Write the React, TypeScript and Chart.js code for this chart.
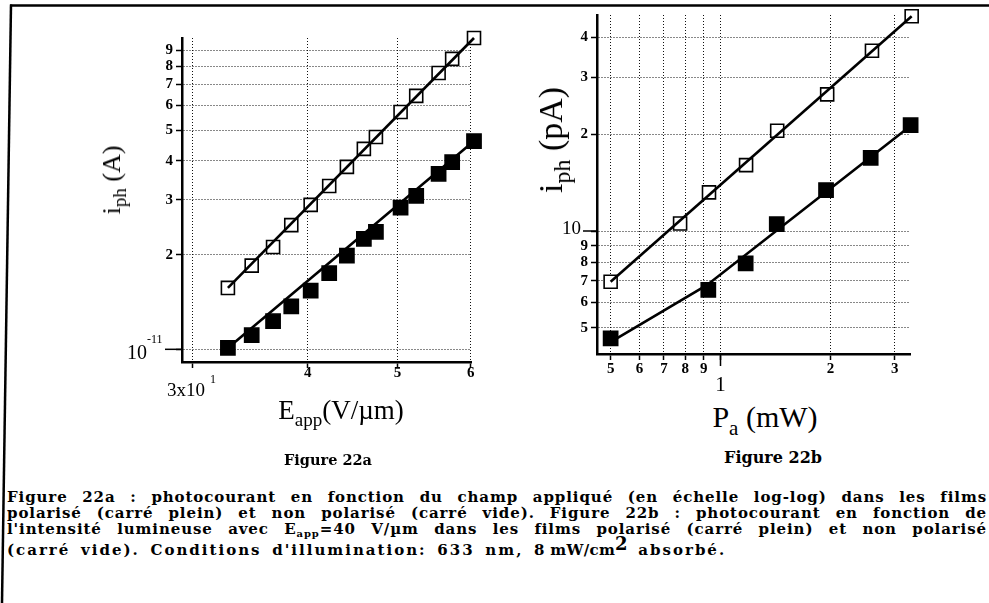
import React, { useEffect, useRef } from "react";
import { Chart, registerables } from "chart.js";

Chart.register(...registerables);

// ---------------- Figure 22a : i_ph vs E_app (log-log) ----------------
const fieldValues = [32.8, 34.8, 36.7, 38.4, 40.3, 42.2, 44.1, 46.0, 47.4, 50.4, 52.4, 55.4, 57.3, 60.5]; // V/µm
const currentNonPolarized = [1.57e-11, 1.85e-11, 2.12e-11, 2.49e-11, 2.89e-11, 3.32e-11, 3.82e-11, 4.36e-11, 4.76e-11, 5.72e-11, 6.44e-11, 7.62e-11, 8.45e-11, 9.85e-11]; // A (carré vide)
const currentPolarized = [1.01e-11, 1.11e-11, 1.23e-11, 1.37e-11, 1.54e-11, 1.75e-11, 1.99e-11, 2.25e-11, 2.37e-11, 2.83e-11, 3.09e-11, 3.63e-11, 3.96e-11, 4.62e-11]; // A (carré plein)
const fitFieldValues = [32.8, 60.5];
const fitCurrentNonPolarized = [1.57e-11, 9.85e-11];
const fitCurrentPolarized = [1.01e-11, 4.62e-11];
const fieldTicks = [30, 40, 50, 60];
const currentTicks = [1e-11, 2e-11, 3e-11, 4e-11, 5e-11, 6e-11, 7e-11, 8e-11, 9e-11];
const fieldRange = [29.26, 60.05];
const currentRange = [0.911e-11, 9.85e-11];

// ---------------- Figure 22b : i_ph vs P_a (log-log) ----------------
const powerNonPolarized = [0.5, 0.775, 0.93, 1.175, 1.43, 1.96, 2.6, 3.34]; // mW
const photoNonPolarized = [6.96, 10.56, 13.19, 16.03, 20.49, 26.58, 36.31, 46.5]; // pA
const powerPolarized = [0.5, 0.926, 1.172, 1.426, 1.946, 2.579, 3.318]; // mW
const photoPolarized = [4.64, 6.56, 7.94, 10.51, 13.41, 16.89, 21.34]; // pA
const fitPowerNonPolarized = [0.5, 3.34];
const fitPhotoNonPolarized = [6.96, 46.5];
const fitPowerPolarized = [0.493, 0.917, 3.34];
const fitPhotoPolarized = [4.48, 6.79, 21.34];
const powerTicks = [0.5, 0.6, 0.7, 0.8, 0.9, 1, 2, 3];
const photoTicks = [5, 6, 7, 8, 9, 10, 20, 30, 40];
const powerRange = [0.4588, 3.305];
const photoRange = [4.15, 46.9];

const SERIF = '"Liberation Serif", "Times New Roman", serif';
const WIDE = '"DejaVu Serif", serif';

const pts = (xs: number[], ys: number[]) => xs.map((x, i) => ({ x, y: ys[i] }));

function fitDataset(xs: number[], ys: number[]) {
  return {
    data: pts(xs, ys),
    showLine: true,
    borderColor: "#000",
    borderWidth: 2.6,
    pointRadius: 0,
    pointHoverRadius: 0,
    clip: false as const,
  };
}

function markerDataset(xs: number[], ys: number[], filled: boolean) {
  return {
    data: pts(xs, ys),
    showLine: false,
    pointStyle: "rect",
    pointRadius: filled ? 10 : 9.2,
    pointBorderWidth: 1.6,
    pointBackgroundColor: filled ? "#000" : "#fff",
    pointBorderColor: "#000",
    clip: false as const,
  };
}

interface AxisSpec {
  range: number[];
  ticks: number[];
  label: (v: number) => string;
  size: number;
  pad: number;
}

function logAxis(spec: AxisSpec, horizontal: boolean) {
  return {
    type: "logarithmic" as const,
    min: spec.range[0],
    max: spec.range[1],
    afterBuildTicks: (s: any) => {
      s.ticks = spec.ticks.map((v) => ({ value: v }));
    },
    afterFit: (s: any) => {
      if (horizontal) s.height = spec.size;
      else s.width = spec.size;
    },
    ticks: {
      autoSkip: false,
      maxRotation: 0,
      color: "#000",
      padding: spec.pad,
      font: { family: SERIF, size: 15, weight: "bold" as const, lineHeight: 1 },
      callback: (v: any) => spec.label(Number(v)),
    },
    grid: {
      color: "#111",
      lineWidth: 1,
      drawTicks: true,
      tickLength: 6,
      tickColor: "#000",
      tickWidth: 1.5,
      tickBorderDash: [],
    },
    border: { display: true, color: "#000", width: 2.5, dash: [1, 2] },
  };
}

function makeChart(
  canvas: HTMLCanvasElement,
  datasets: any[],
  xAxis: AxisSpec,
  yAxis: AxisSpec,
  padding: any,
  annotate: (chart: any) => void
) {
  return new Chart(canvas, {
    type: "scatter",
    data: { datasets },
    options: {
      responsive: false,
      animation: false,
      devicePixelRatio: 1,
      layout: { padding },
      plugins: { legend: { display: false }, tooltip: { enabled: false } },
      events: [],
      scales: { x: logAxis(xAxis, true) as any, y: logAxis(yAxis, false) as any },
    },
    plugins: [{ id: "annotate", afterDraw: (chart: any) => annotate(chart) }],
  });
}

function annotateA(chart: any) {
  const { ctx, chartArea, scales } = chart;
  const y0 = scales.y.getPixelForValue(currentTicks[0]);
  const x30 = scales.x.getPixelForValue(fieldTicks[0]);
  ctx.save();
  ctx.fillStyle = "#000";
  ctx.strokeStyle = "#000";
  ctx.lineWidth = 1.5;
  ctx.beginPath();
  ctx.moveTo(chartArea.left - 17, y0);
  ctx.lineTo(chartArea.left, y0);
  ctx.stroke();
  ctx.textBaseline = "alphabetic";
  ctx.font = `20px ${SERIF}`;
  ctx.textAlign = "right";
  ctx.fillText("10", chartArea.left - 35, y0 + 10);
  ctx.font = `12px ${SERIF}`;
  ctx.textAlign = "left";
  ctx.fillText("-11", chartArea.left - 35, y0 - 6);
  ctx.font = `19px ${SERIF}`;
  ctx.textAlign = "right";
  ctx.fillText("3x10", x30 + 13, chartArea.bottom + 34);
  ctx.font = `12px ${SERIF}`;
  ctx.textAlign = "left";
  ctx.fillText("1", x30 + 18, chartArea.bottom + 21);
  ctx.restore();
}

function annotateB(chart: any) {
  const { ctx, chartArea, scales } = chart;
  const y10 = scales.y.getPixelForValue(10);
  const x1 = scales.x.getPixelForValue(1);
  ctx.save();
  ctx.fillStyle = "#000";
  ctx.strokeStyle = "#000";
  ctx.lineWidth = 1.5;
  ctx.beginPath();
  ctx.moveTo(chartArea.left - 14, y10);
  ctx.lineTo(chartArea.left, y10);
  ctx.moveTo(x1, chartArea.bottom);
  ctx.lineTo(x1, chartArea.bottom + 12);
  ctx.stroke();
  ctx.font = `19px ${SERIF}`;
  ctx.textAlign = "right";
  ctx.textBaseline = "middle";
  ctx.fillText("10", chartArea.left - 16, y10 - 2);
  ctx.font = `21px ${SERIF}`;
  ctx.textAlign = "center";
  ctx.fillText("1", x1, chartArea.bottom + 31);
  ctx.restore();
}

const sub = (t: string, size: number, drop: number) => (
  <span style={{ fontSize: size, position: "relative", top: drop }}>{t}</span>
);

const captionLine = (top: number): React.CSSProperties => ({
  position: "absolute",
  left: 7,
  top,
  width: 980,
  fontFamily: WIDE,
  fontWeight: "bold",
  fontSize: 15,
  lineHeight: "15px",
  letterSpacing: 0.9,
  textAlign: "justify",
  textAlignLast: "justify",
});

export default function App() {
  const leftRef = useRef<HTMLCanvasElement>(null);
  const rightRef = useRef<HTMLCanvasElement>(null);

  useEffect(() => {
    const fmtA = (v: number) => {
      const m = Math.round(v / 1e-11);
      return m === 1 ? "" : String(m);
    };
    const fmtE = (v: number) => (Math.round(v) === 30 ? "" : String(Math.round(v / 10)));
    const fmtP = (v: number) => (Math.abs(v - 1) < 1e-9 ? "" : v < 1 ? String(Math.round(v * 10)) : String(Math.round(v)));
    const fmtI = (v: number) => (Math.round(v) === 10 ? "" : v < 10 ? String(Math.round(v)) : String(Math.round(v / 10)));

    const c1 = makeChart(
      leftRef.current!,
      [
        fitDataset(fitFieldValues, fitCurrentNonPolarized),
        fitDataset(fitFieldValues, fitCurrentPolarized),
        markerDataset(fieldValues, currentNonPolarized, false),
        markerDataset(fieldValues, currentPolarized, true),
      ],
      { range: fieldRange, ticks: fieldTicks, label: fmtE, size: 58, pad: -2 },
      { range: currentRange, ticks: currentTicks, label: fmtA, size: 72, pad: 3 },
      { left: 0, top: 18, right: 19, bottom: 0 },
      annotateA
    );
    const c2 = makeChart(
      rightRef.current!,
      [
        fitDataset(fitPowerNonPolarized, fitPhotoNonPolarized),
        fitDataset(fitPowerPolarized, fitPhotoPolarized),
        markerDataset(powerNonPolarized, photoNonPolarized, false),
        markerDataset(powerPolarized, photoPolarized, true),
      ],
      { range: powerRange, ticks: powerTicks, label: fmtP, size: 46, pad: 2 },
      { range: photoRange, ticks: photoTicks, label: fmtI, size: 67, pad: 3 },
      { left: 0, top: 15, right: 60, bottom: 0 },
      annotateB
    );
    return () => {
      c1.destroy();
      c2.destroy();
    };
  }, []);

  return (
    <div
      style={{
        position: "fixed",
        left: 0,
        top: 0,
        width: 989,
        height: 603,
        background: "#fff",
        color: "#000",
        overflow: "hidden",
      }}
    >
      <svg width={989} height={603} style={{ position: "absolute", left: 0, top: 0 }}>
        <line x1={10} y1={5.5} x2={989} y2={5.5} stroke="#000" strokeWidth={2.5} />
        <line x1={11} y1={4.5} x2={2} y2={603} stroke="#000" strokeWidth={2.5} />
      </svg>

      <canvas
        ref={leftRef}
        width={380}
        height={400}
        style={{ position: "absolute", left: 110, top: 20, width: 380, height: 400 }}
      />
      <canvas
        ref={rightRef}
        width={440}
        height={400}
        style={{ position: "absolute", left: 530, top: 0, width: 440, height: 400 }}
      />

      {/* Axis titles, figure 22a */}
      <div
        style={{
          position: "absolute",
          left: 112,
          top: 180,
          transform: "translate(-50%, -50%) rotate(-90deg)",
          fontFamily: SERIF,
          fontSize: 26,
          lineHeight: 1,
          whiteSpace: "nowrap",
        }}
      >
        i{sub("ph", 19, 6)} (A)
      </div>
      <div
        style={{
          position: "absolute",
          left: 341,
          top: 396,
          transform: "translateX(-50%)",
          fontFamily: SERIF,
          fontSize: 27,
          lineHeight: "28px",
          whiteSpace: "nowrap",
        }}
      >
        E{sub("app", 19, 7)}(V/µm)
      </div>
      <div
        style={{
          position: "absolute",
          left: 328,
          top: 460,
          transform: "translate(-50%, -50%)",
          fontFamily: WIDE,
          fontWeight: "bold",
          fontSize: 14.5,
          lineHeight: 1,
          whiteSpace: "nowrap",
        }}
      >
        Figure 22a
      </div>

      {/* Axis titles, figure 22b */}
      <div
        style={{
          position: "absolute",
          left: 551,
          top: 140,
          transform: "translate(-50%, -50%) rotate(-90deg)",
          fontFamily: SERIF,
          fontSize: 34,
          lineHeight: 1,
          whiteSpace: "nowrap",
        }}
      >
        i{sub("ph", 24, 8)} (pA)
      </div>
      <div
        style={{
          position: "absolute",
          left: 765,
          top: 402,
          transform: "translateX(-50%)",
          fontFamily: SERIF,
          fontSize: 30,
          lineHeight: "30px",
          whiteSpace: "nowrap",
        }}
      >
        P{sub("a", 21, 8)} (mW)
      </div>
      <div
        style={{
          position: "absolute",
          left: 773,
          top: 458,
          transform: "translate(-50%, -50%)",
          fontFamily: WIDE,
          fontWeight: "bold",
          fontSize: 16,
          lineHeight: 1,
          whiteSpace: "nowrap",
        }}
      >
        Figure 22b
      </div>

      {/* Caption */}
      <div style={captionLine(490)}>
        Figure 22a : photocourant en fonction du champ appliqué (en échelle log-log) dans les films
      </div>
      <div style={captionLine(506)}>
        polarisé (carré plein) et non polarisé (carré vide). Figure 22b : photocourant en fonction de
      </div>
      <div style={captionLine(522)}>
        l'intensité lumineuse avec E{sub("app", 10, 3)}=40 V/µm dans les films polarisé (carré plein) et non polarisé
      </div>
      <div style={{ ...captionLine(541), textAlign: "left", textAlignLast: "left", letterSpacing: 2.0, wordSpacing: 3.5 }}>
        (carré vide). Conditions d'illumination: 633 nm,{" "}
        <span style={{ letterSpacing: 0.3, wordSpacing: 0 }}>8 mW/cm</span>
        <span style={{ fontSize: 18, position: "relative", top: -5, letterSpacing: 0 }}>2</span> absorbé.
      </div>
    </div>
  );
}
